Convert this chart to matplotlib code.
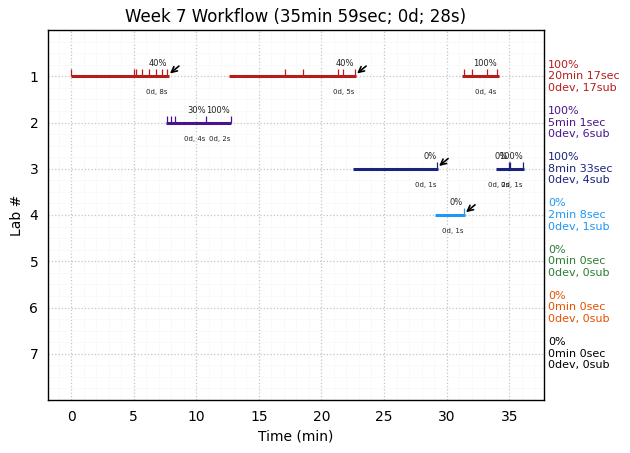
import matplotlib
matplotlib.use("Agg")
import matplotlib.pyplot as plt
from matplotlib.ticker import MultipleLocator

title = "Week 7 Workflow (35min 59sec; 0d; 28s)"
labs = [1, 2, 3, 4, 5, 6, 7]
colors = ["#b71c1c", "#4a148c", "#1a237e", "#2196f3", "#2e7d32", "#e65100", "#000000"]
summaries = [
    "100%\n20min 17sec\n0dev, 17sub",
    "100%\n5min 1sec\n0dev, 6sub",
    "100%\n8min 33sec\n0dev, 4sub",
    "0%\n2min 8sec\n0dev, 1sub",
    "0%\n0min 0sec\n0dev, 0sub",
    "0%\n0min 0sec\n0dev, 0sub",
    "0%\n0min 0sec\n0dev, 0sub",
]
# (lab, start, end)
segments = [
    (1, 0.0, 7.8), (1, 12.6, 22.75), (1, 31.2, 34.2),
    (2, 7.6, 12.8),
    (3, 22.5, 29.3), (3, 33.95, 36.2),
    (4, 29.05, 31.45),
]
submissions = {
    1: [0.0, 5.0, 5.15, 5.7, 6.25, 6.75, 7.25, 7.7, 17.1, 18.55, 21.35, 21.75, 22.65,
        31.35, 32.0, 33.25, 34.05],
    2: [7.67, 8.0, 8.33, 10.75, 12.75],
    3: [29.2, 35.0, 35.03, 36.1],
    4: [31.35],
}
# (lab, x, label)
percents = [
    (1, 6.9, "40%"), (1, 21.85, "40%"), (1, 33.05, "100%"),
    (2, 10.05, "30%"), (2, 11.77, "100%"),
    (3, 28.7, "0%"), (3, 34.35, "0%"), (3, 35.15, "100%"),
    (4, 30.75, "0%"),
]
delays = [
    (1, 6.85, "0d, 8s"), (1, 21.8, "0d, 5s"), (1, 33.1, "0d, 4s"),
    (2, 9.9, "0d, 4s"), (2, 11.9, "0d, 2s"),
    (3, 28.35, "0d, 1s"), (3, 34.2, "0d, 2s"), (3, 35.2, "0d, 1s"),
    (4, 30.5, "0d, 1s"),
]
# (lab, x of the arrow tip)
arrows = [(1, 7.9), (1, 22.85), (3, 29.4), (4, 31.55)]

fig = plt.figure(figsize=(6.30, 4.53), dpi=100)
ax = fig.add_axes([48 / 630, 1 - 400 / 453, (544 - 48) / 630, (400 - 30) / 453])

ax.set_xlim(-1.84, 37.78)
ax.set_ylim(8, 0)
ax.set_xticks(range(0, 36, 5))
ax.set_yticks(labs)
ax.xaxis.set_minor_locator(MultipleLocator(1))
ax.yaxis.set_minor_locator(MultipleLocator(0.25))
ax.grid(True, which="minor", color="#f8f8f8", linestyle="-", linewidth=0.6, zorder=0)
ax.grid(True, which="major", color="#c4c4c4", linestyle=":", linewidth=0.9, zorder=1)
ax.set_axisbelow(True)
ax.tick_params(which="both", width=0, labelsize=10)
ax.tick_params(which="minor", length=0)
for spine in ax.spines.values():
    spine.set_linewidth(1.0)

for lab, start, end in segments:
    ax.plot([start, end], [lab, lab], color=colors[lab - 1], linewidth=2.2, solid_capstyle="butt", zorder=3)

for lab, xs in submissions.items():
    ax.vlines(xs, lab - 0.15, lab, color=colors[lab - 1], linewidth=0.9, zorder=3)

for lab, x, label in percents:
    ax.text(x, lab - 0.27, label, fontsize=6, ha="center", va="center", color="#222222")

for lab, x, label in delays:
    ax.text(x, lab + 0.35, label, fontsize=5, ha="center", va="center", color="#222222")

for lab, x in arrows:
    ax.annotate("", xy=(x, lab - 0.06), xytext=(x + 0.72, lab - 0.22),
                arrowprops=dict(arrowstyle="->", color="black", lw=1.2, shrinkA=0, shrinkB=0,
                                mutation_scale=10))

for lab, summary, color in zip(labs, summaries, colors):
    ax.annotate(summary, xy=(1, lab), xycoords=("axes fraction", "data"), xytext=(3, 0),
                textcoords="offset points", fontsize=8, color=color, ha="left", va="center",
                linespacing=1.2, annotation_clip=False)

ax.set_title(title, fontsize=12, pad=6)
ax.set_xlabel("Time (min)", fontsize=10)
ax.set_ylabel("Lab #", fontsize=10)

fig.savefig("out.png", dpi=100)
